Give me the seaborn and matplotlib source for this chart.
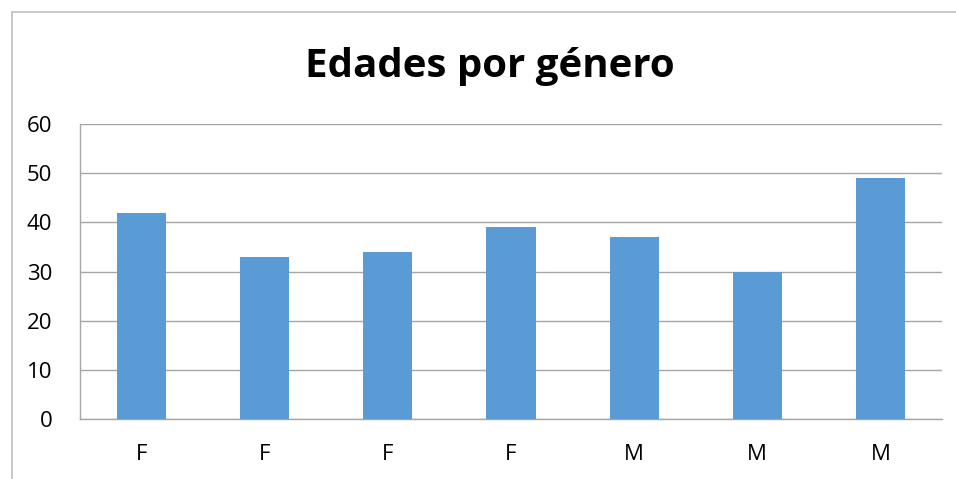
import matplotlib
matplotlib.use("Agg")
import matplotlib.pyplot as plt
from matplotlib.lines import Line2D
import seaborn as sns
import pandas as pd
import numpy as np

categories = ["F", "F", "F", "F", "M", "M", "M"]
values = [42, 33, 34, 39, 37, 30, 49]
title = "Edades por género"
yticks = [0, 10, 20, 30, 40, 50, 60]

sns.set_theme(style="white")
plt.rcParams['font.family'] = ['Open Sans', 'DejaVu Sans']

W, H = 956, 479
fig = plt.figure(figsize=(W / 100, H / 100), dpi=100)
ax = fig.add_axes([80 / W, 1 - 419 / H, (942 - 80) / W, (419 - 124) / H])

df = pd.DataFrame({"pos": [str(i) for i in range(len(values))], "val": values})
sns.barplot(data=df, x="pos", y="val", color="#5B9BD5", saturation=1, width=0.4,
            linewidth=0, edgecolor="none", ax=ax, zorder=3)

grid_c = "#A6A6A6"
ax.set_ylim(0, 60)
ax.set_xlim(-0.5, len(values) - 0.5)
ax.set_yticks(yticks)
ax.set_yticklabels([str(t) for t in yticks], fontsize=16, color="black")
ax.set_xticks(range(len(values)))
ax.set_xticklabels(categories, fontsize=16, color="black")
ax.tick_params(axis="x", which="major", length=0, pad=18)
ax.set_xticks(np.arange(-0.5, len(values)), minor=True)
ax.tick_params(axis="x", which="minor", length=7, width=1, color=grid_c, direction="out")
ax.tick_params(axis="y", length=8, width=1, color=grid_c, pad=12, direction="out")
ax.yaxis.grid(True, color=grid_c, linewidth=1, zorder=0)
ax.set_axisbelow(True)
for s in ["top", "right"]:
    ax.spines[s].set_visible(False)
for s in ["left", "bottom"]:
    ax.spines[s].set_color(grid_c)
    ax.spines[s].set_linewidth(1)
ax.set_xlabel("")
ax.set_ylabel("")

fig.text(490 / W, 1 - 66 / H, title, ha="center", va="center", fontsize=29,
         fontweight="bold", color="black")

# chart frame
fig.add_artist(Line2D([11.5 / W, 11.5 / W], [0, 1 - 12 / H], color="#BFBFBF", linewidth=1.2))
fig.add_artist(Line2D([11.5 / W, 1], [1 - 12 / H, 1 - 12 / H], color="#BFBFBF", linewidth=1.2))

fig.savefig("out.png", dpi=100, facecolor="white")
